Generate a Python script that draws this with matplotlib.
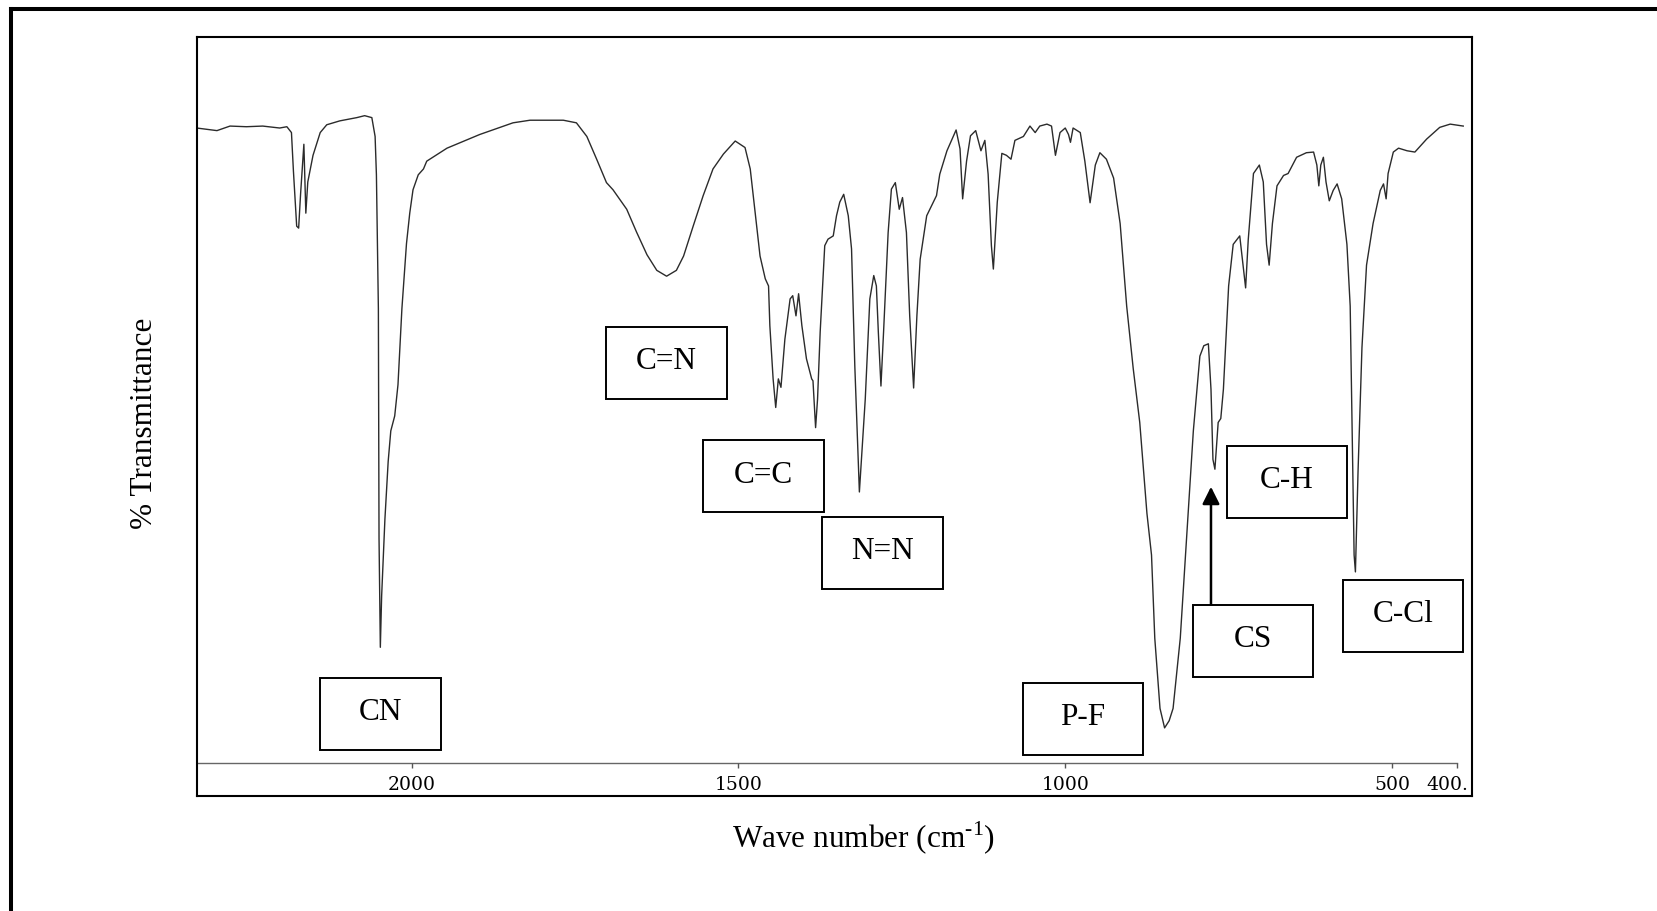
import matplotlib
matplotlib.use("Agg")
import matplotlib.pyplot as plt
from matplotlib.lines import Line2D
from matplotlib.patches import Rectangle

plt.rcParams["font.family"] = ["Liberation Serif", "DejaVu Serif"]
plt.rcParams["mathtext.fontset"] = "custom"
plt.rcParams["mathtext.rm"] = "Liberation Serif"

# FT-IR trace: wave number (cm-1) against transmittance (arbitrary %)
wavenumber = [
    2329, 2298, 2278, 2253, 2228, 2202, 2191, 2184, 2181, 2176, 2173, 2170,
    2165, 2162, 2159, 2151, 2140, 2130, 2110, 2084, 2072, 2061, 2056, 2054,
    2051, 2050, 2048, 2046, 2041, 2036, 2032, 2026, 2021, 2015, 2008, 2003,
    1998, 1990, 1982, 1977, 1946, 1896, 1845, 1819, 1768, 1748, 1732, 1717,
    1702, 1692, 1671, 1656, 1640, 1625, 1610, 1595, 1584, 1569, 1554, 1539,
    1523, 1505, 1490, 1482, 1475, 1467, 1459, 1454, 1452, 1447, 1443, 1439,
    1435, 1429, 1421, 1417, 1412, 1408, 1403, 1396, 1388, 1386, 1382, 1379,
    1375, 1368, 1363, 1355, 1350, 1345, 1339, 1332, 1327, 1322, 1315, 1306,
    1299, 1293, 1289, 1286, 1282, 1278, 1271, 1266, 1260, 1254, 1249, 1243,
    1238, 1232, 1227, 1222, 1212, 1197, 1192, 1181, 1167, 1161, 1157, 1151,
    1145, 1137, 1129, 1123, 1118, 1113, 1110, 1104, 1097, 1090, 1083, 1077,
    1064, 1054, 1046, 1039, 1028, 1021, 1015, 1008, 1000, 995, 992, 988,
    977, 970, 962, 954, 947, 937, 926, 916, 906, 896, 886, 875,
    868, 863, 855, 848, 841, 835, 824, 814, 804, 794, 788, 781,
    777, 774, 771, 766, 762, 758, 750, 743, 733, 728, 724, 720,
    712, 703, 697, 692, 688, 683, 676, 666, 659, 646, 631, 620,
    615, 612, 609, 605, 601, 596, 590, 584, 577, 569, 564, 561,
    558, 556, 552, 546, 539, 529, 518, 513, 509, 506, 498, 490,
    477, 465, 447, 427, 411, 391,
]
transmittance = [
    97.7, 97.3, 98.0, 97.9, 98.0, 97.7, 97.9, 97.0, 91.1, 82.6, 82.3, 87.6,
    95.2, 84.6, 89.4, 93.5, 97.0, 98.2, 98.8, 99.3, 99.6, 99.3, 96.4, 90.5,
    69.9, 34.6, 17.8, 25.7, 37.5, 46.4, 51.1, 53.4, 58.2, 69.9, 79.9, 84.6,
    88.2, 90.5, 91.4, 92.6, 94.6, 96.7, 98.5, 98.9, 98.9, 98.5, 96.4, 92.9,
    89.3, 88.2, 85.2, 81.7, 78.2, 75.8, 74.9, 75.8, 78.0, 82.7, 87.3, 91.4,
    93.7, 95.7, 94.7, 91.4, 85.2, 78.0, 74.5, 73.4, 67.3, 59.1, 54.7, 59.1,
    57.8, 65.2, 71.4, 71.9, 68.8, 72.2, 67.3, 62.2, 59.1, 58.8, 51.6, 56.0,
    66.3, 79.6, 80.6, 81.1, 84.2, 86.3, 87.5, 84.2, 79.1, 61.1, 41.7, 56.0,
    71.4, 75.0, 73.4, 66.3, 58.0, 66.3, 81.6, 88.3, 89.3, 85.2, 87.0, 81.6,
    68.8, 57.7, 68.8, 77.5, 84.2, 87.3, 90.6, 94.2, 97.4, 94.5, 86.8, 92.6,
    96.5, 97.3, 94.2, 95.8, 90.6, 79.6, 76.0, 86.3, 93.8, 93.5, 92.9, 95.8,
    96.4, 98.0, 97.0, 98.0, 98.3, 98.0, 93.5, 97.0, 97.7, 96.7, 95.5, 97.7,
    97.0, 92.6, 86.2, 92.0, 93.9, 92.9, 90.0, 83.0, 70.3, 60.7, 52.4, 38.4,
    32.0, 19.2, 8.4, 5.4, 6.5, 8.4, 19.2, 35.2, 51.1, 62.6, 64.2, 64.5,
    57.5, 46.7, 45.2, 52.4, 53.0, 57.5, 73.4, 79.8, 81.1, 76.6, 73.1, 80.5,
    90.7, 92.0, 89.4, 79.8, 76.6, 83.0, 88.8, 90.4, 90.7, 93.2, 93.9, 94.0,
    92.0, 88.8, 92.0, 93.2, 89.4, 86.5, 88.1, 89.1, 86.8, 79.8, 70.3, 51.1,
    32.0, 29.4, 44.8, 63.9, 76.6, 83.0, 88.1, 89.1, 86.8, 90.7, 94.0, 94.6,
    94.2, 94.0, 96.0, 97.8, 98.3, 98.0,
]

tick_values = [2000, 1500, 1000, 500, 400]
tick_labels = ["2000", "1500", "1000", "500", "400."]

# band assignments, boxed labels placed around the spectrum
band_labels = ["CN", "C=N", "C=C", "N=N", "P-F", "CS", "C-H", "C-Cl"]
band_box_x = [2048, 1610, 1462, 1280, 973, 713, 661, 483]
band_box_y = [7.6, 61.6, 44.1, 32.3, 6.8, 18.8, 43.2, 22.6]
box_w, box_h = 184.4, 11.1

# arrow from the CS box up to its band
cs_arrow_x = 777
cs_arrow_from, cs_arrow_to = 24.4, 42.5

fig = plt.figure(figsize=(16.57, 9.12), dpi=100)

# heavy outer frame (top and left edges)
fl, ft = 11.3 / 1657, 1 - 10.3 / 912
fig.add_artist(Line2D([fl, 1.0], [ft, ft], color="black", lw=2.9,
                      solid_capstyle="projecting"))
fig.add_artist(Line2D([fl, fl], [0.0, ft], color="black", lw=2.9,
                      solid_capstyle="projecting"))

ax = fig.add_axes([0.1189, 0.1261, 0.7693, 0.8322])
ax.set_xlim(2328.5, 378)
ax.set_ylim(-5.08, 111.7)
ax.set_xticks([])
ax.set_yticks([])
for sp in ax.spines.values():
    sp.set_linewidth(1.5)
    sp.set_color("black")

ax.plot(wavenumber, transmittance, color="#2b2b2b", lw=1.0)

# scale line with tick marks
ax.plot([2328.5, 400], [0, 0], color="#666666", lw=1.0)
ax.vlines(tick_values, 0, -0.75, color="#555555", lw=1.0)
for t, lab in zip(tick_values, tick_labels):
    dx = -7 if lab.endswith(".") else 0
    ax.annotate(lab, xy=(t, 0), xytext=(dx, -15), textcoords="offset points",
                ha="center", va="center", fontsize=13.5,
                family="DejaVu Serif")

for lab, bx, by in zip(band_labels, band_box_x, band_box_y):
    ax.add_patch(Rectangle((bx + box_w / 2, by - box_h / 2), -box_w, box_h,
                           fill=False, edgecolor="black", lw=1.4))
    ax.text(bx, by + 0.35, lab, ha="center", va="center", fontsize=22.5)

ax.annotate("", xy=(cs_arrow_x, cs_arrow_to), xytext=(cs_arrow_x, cs_arrow_from),
            arrowprops=dict(arrowstyle="-|>", color="black", lw=1.8,
                            mutation_scale=26, shrinkA=0, shrinkB=0))

fig.text(864 / 1657, 1 - 838 / 912, "Wave number (cm$^{\\mathregular{\u20101}}$)",
         ha="center", va="center", fontsize=22.5)
fig.text(144 / 1657, 1 - 423 / 912, "% Transmittance", rotation=90,
         ha="center", va="center", fontsize=22.5)

fig.savefig("out.png", dpi=100, facecolor="white")
